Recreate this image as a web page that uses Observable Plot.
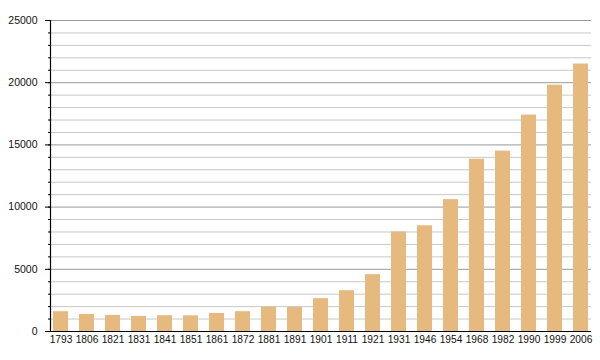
<!DOCTYPE html>
<html>
<head>
<meta charset="utf-8">
<script src="https://cdn.jsdelivr.net/npm/d3@7"></script>
<script src="https://cdn.jsdelivr.net/npm/@observablehq/plot@0.6"></script>
<style>
  html, body { margin: 0; padding: 0; background: #fff; }
  #chart svg { display: block; }
</style>
</head>
<body>
<div id="chart"></div>
<script>
const years = ["1793","1806","1821","1831","1841","1851","1861","1872","1881","1891","1901","1911","1921","1931","1946","1954","1968","1982","1990","1999","2006"];
const population = [1590,1370,1290,1210,1270,1260,1450,1590,1960,1940,2640,3280,4570,8000,8500,10600,13850,14500,17400,19800,21500];
const majorTicks = [0,5000,10000,15000,20000,25000];
const minorTicks = d3.range(0, 25001, 1000);

const data = years.map((y, i) => ({year: y, value: population[i]}));

const chart = Plot.plot({
  width: 600,
  height: 360,
  marginLeft: 50,
  marginRight: 9,
  marginTop: 20,
  marginBottom: 29,
  style: {fontFamily: "'Liberation Sans', Arial, sans-serif", background: "#fff", color: "#000"},
  x: {domain: years, paddingInner: 0.41, paddingOuter: 0.05, label: null},
  y: {domain: [0, 25000], label: null},
  marks: [
    Plot.ruleY(minorTicks.filter(d => d % 5000 !== 0), {stroke: "#c8c8c8", strokeWidth: 1}),
    Plot.ruleY(majorTicks, {stroke: "#9a9a9a", strokeWidth: 1}),
    Plot.barY(data, {x: "year", y: "value", fill: "#e6b97f"}),
    Plot.axisY(minorTicks, {tickSize: 2, tickFormat: () => "", stroke: "#000", strokeOpacity: 1, strokeWidth: 1}),
    Plot.axisY(majorTicks, {tickSize: 5, tickPadding: 8, fontSize: 10.5, fill: "#111", stroke: "#000", strokeOpacity: 1, strokeWidth: 1, tickFormat: d => String(d)}),
    Plot.axisX({tickSize: 0, tickPadding: 4, fontSize: 10.2, fill: "#111"}),
    Plot.frame({anchor: "left", stroke: "#000", strokeWidth: 1.2}),
    Plot.ruleY([0], {stroke: "#000", strokeWidth: 1.2})
  ]
});
document.getElementById("chart").appendChild(chart);
</script>
</body>
</html>
